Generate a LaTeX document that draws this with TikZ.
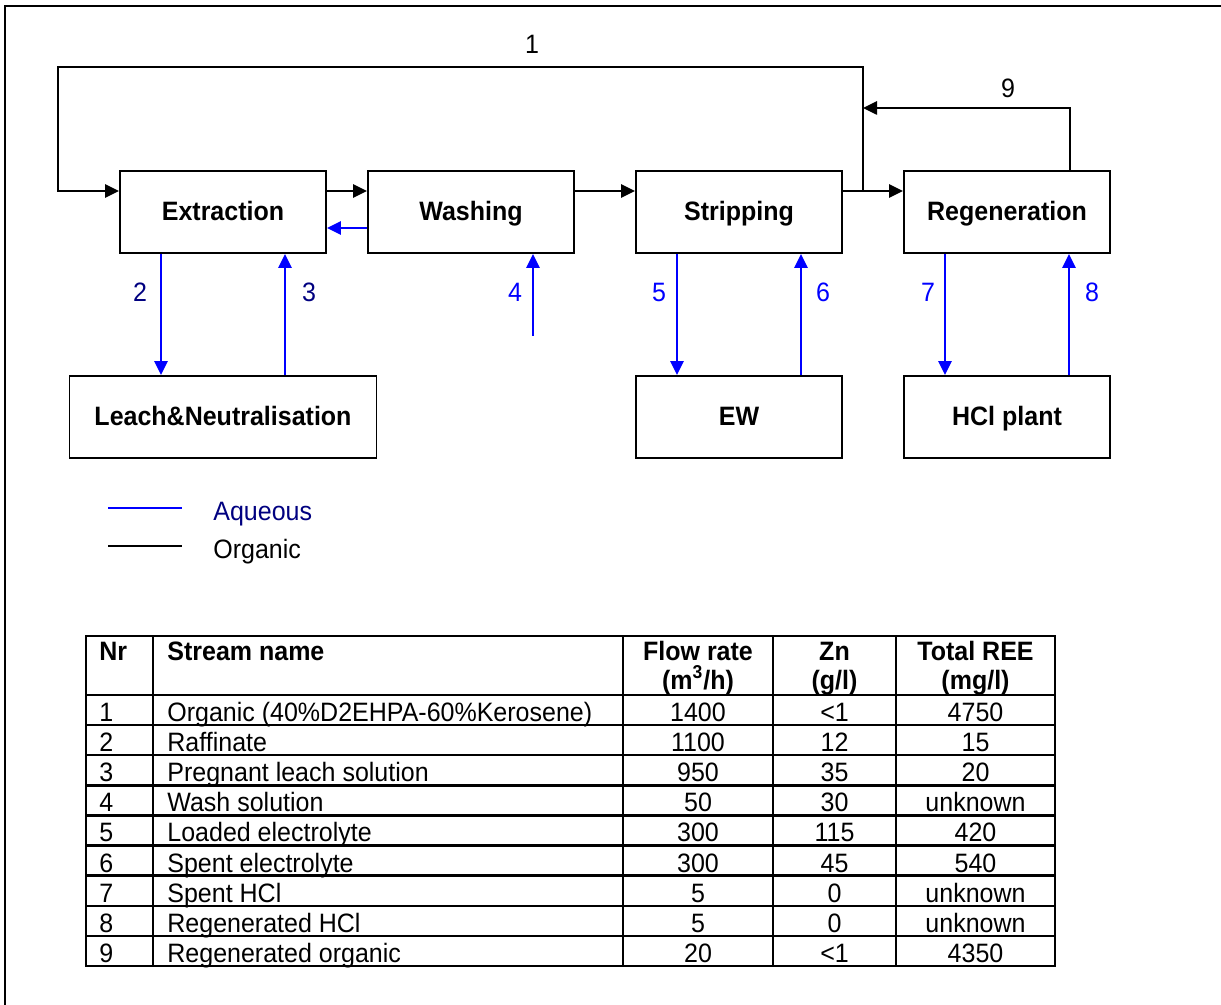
\documentclass[tikz,border=0pt]{standalone}
\usepackage{fontspec}
\setmainfont{Liberation Sans}[FakeStretch=0.94]
\definecolor{aqblue}{RGB}{0,0,255}
\definecolor{aqnavy}{RGB}{0,0,128}
\usetikzlibrary{arrows.meta,positioning,calc}

\begin{document}
\begin{tikzpicture}[x=0.5pt,y=-0.5pt,
    font=\fontsize{13.3}{15}\selectfont,
    unit/.style={draw,line width=0.9pt,minimum width=103pt,minimum height=41pt,
      text height=9pt,text depth=0pt,font=\fontsize{13.3}{15}\selectfont\bfseries},
    wide unit/.style={unit,minimum width=153.5pt},
    org/.style={line width=1.3pt,-{Triangle[length=7pt,width=6.5pt]}},
    aq/.style={org,aqblue},
    tab/.style={line width=1.2pt},
    cell/.style={inner sep=0pt},
    hcell/.style={cell,font=\fontsize{13.3}{15}\selectfont\bfseries},
  ]
  \useasboundingbox (0,0) rectangle (1221,1005);
  \draw[line width=0.85pt] (5,1005) -- (5,6) -- (1221,6);

  % process units
  \node[unit] (ext) at (223,212) {Extraction};
  \node[unit,right=20.1pt of ext] (wash) {Washing};
  \node[unit,right=30.1pt of wash] (strip) {Stripping};
  \node[unit,right=30.1pt of strip] (regen) {Regeneration};
  \node[wide unit,below=60.6pt of ext] (leach) {Leach\&Neutralisation};
  \node[unit,below=60.6pt of strip] (ew) {EW};
  \node[unit,below=60.6pt of regen] (hcl) {HCl plant};

  \coordinate (orgrow) at (0,191);
  \coordinate (aqrow) at (0,228);
  \coordinate (j1) at (863,191);
  \coordinate (top1) at (863,67);
  \coordinate (left1) at (58,67);
  \coordinate (c9) at (1070,108);
  \coordinate (src4) at ([xshift=31pt,yshift=-41pt]wash.south);

  % organic
  \draw[org] (ext.east |- orgrow) -- (wash.west |- orgrow);
  \draw[org] (wash.east |- orgrow) -- (strip.west |- orgrow);
  \draw[org] (strip.east |- orgrow) -- (regen.west |- orgrow);
  \draw[org] (j1) -- (top1) -- (left1) |- (ext.west |- orgrow);
  \draw[org] (regen.north -| c9) -- (c9) -- (c9 -| j1);
  \node (n1) at (532,44) {1};
  \node (n9) at (1008,88) {9};

  % aqueous
  \draw[aq] (wash.west |- aqrow) -- (ext.east |- aqrow);
  \draw[aq] ([xshift=-31pt]ext.south) -- ([xshift=-31pt]ext.south |- leach.north);
  \draw[aq] ([xshift=31pt]ext.south |- leach.north) -- ([xshift=31pt]ext.south);
  \draw[aq] (src4) -- ([xshift=31pt]wash.south);
  \draw[aq] ([xshift=-31pt]strip.south) -- ([xshift=-31pt]strip.south |- ew.north);
  \draw[aq] ([xshift=31pt]strip.south |- ew.north) -- ([xshift=31pt]strip.south);
  \draw[aq] ([xshift=-31pt]regen.south) -- ([xshift=-31pt]regen.south |- hcl.north);
  \draw[aq] ([xshift=31pt]regen.south |- hcl.north) -- ([xshift=31pt]regen.south);
  \node[text=aqnavy] (n2) at (140,292) {2};
  \node[text=aqnavy] (n3) at (309,292) {3};
  \node[text=aqblue] (n4) at (515,292) {4};
  \node[text=aqblue] (n5) at (659,292) {5};
  \node[text=aqblue] (n6) at (823,292) {6};
  \node[text=aqblue] (n7) at (928,292) {7};
  \node[text=aqblue] (n8) at (1092,292) {8};

  % legend
  \draw[line width=1.4pt,aqblue] (108,508) -- (182,508);
  \draw[line width=1.4pt] (108,546) -- (182,546);
  \node[cell,anchor=base west,text=aqnavy] (laq) at (213,520) {Aqueous};
  \node[cell,anchor=base west] (lorg) at (213,559) {Organic};

  % stream table
  \draw[tab] (86,636) rectangle (1055,966);
  \foreach \xx in {153,623,773,896}
    \draw[tab] (\xx,636) -- (\xx,966);
  \foreach \i in {0,...,8}
    \draw[tab] (86,{695+30.1*\i}) -- (1055,{695+30.1*\i});
  \node[hcell,anchor=base west] (hnr) at (99,660) {Nr};
  \node[hcell,anchor=base west] (hname) at (167,660) {Stream name};
  \node[hcell,anchor=base] (hflow) at (698,660) {Flow rate};
  \node[hcell,anchor=base] (hflowu) at (698,689) {(m\textsuperscript{3}/h)};
  \node[hcell,anchor=base] (hzn) at (834.5,660) {Zn};
  \node[hcell,anchor=base] (hznu) at (834.5,689) {(g/l)};
  \node[hcell,anchor=base] (hree) at (975.5,660) {Total REE};
  \node[hcell,anchor=base] (hreeu) at (975.5,689) {(mg/l)};
  \foreach \nr/\sname/\flow/\zn/\ree [count=\i from 0] in {
      1/Organic (40\%D2EHPA-60\%Kerosene)/1400/<1/4750,
      2/Raffinate/1100/12/15,
      3/Pregnant leach solution/950/35/20,
      4/Wash solution/50/30/unknown,
      5/Loaded electrolyte/300/115/420,
      6/Spent electrolyte/300/45/540,
      7/Spent HCl/5/0/unknown,
      8/Regenerated HCl/5/0/unknown,
      9/Regenerated organic/20/<1/4350} {
    \node[cell,anchor=base west] (nr\nr) at (99,{721.5+30.1*\i}) {\nr};
    \node[cell,anchor=base west] (name\nr) at (167,{721.5+30.1*\i}) {\sname};
    \node[cell,anchor=base] (flow\nr) at (698,{721.5+30.1*\i}) {\flow};
    \node[cell,anchor=base] (zn\nr) at (834.5,{721.5+30.1*\i}) {\zn};
    \node[cell,anchor=base] (ree\nr) at (975.5,{721.5+30.1*\i}) {\ree};
  }
\end{tikzpicture}
\end{document}
